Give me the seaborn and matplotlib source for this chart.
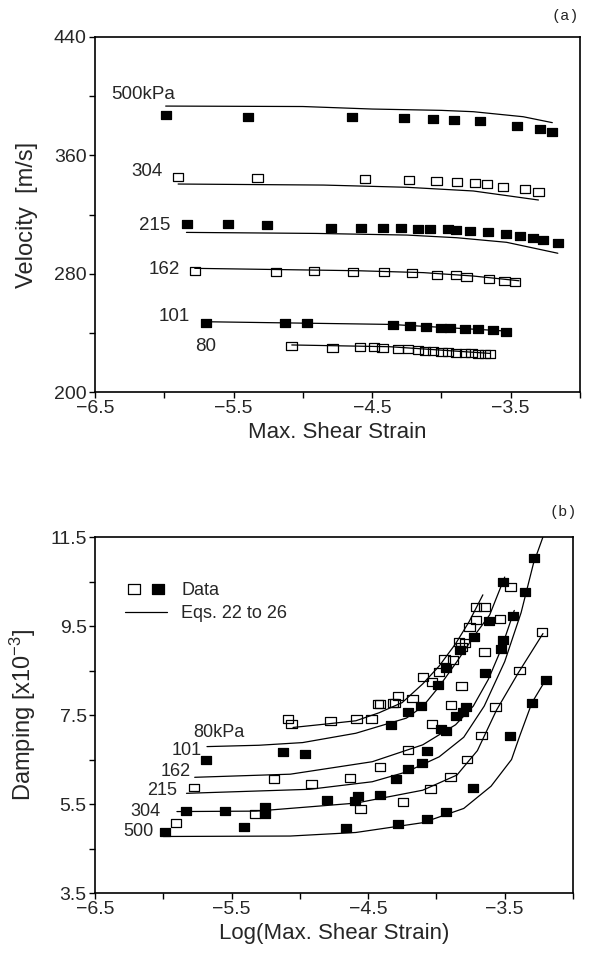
import numpy as np
import pandas as pd
import matplotlib
matplotlib.use("Agg")
import matplotlib.pyplot as plt
import seaborn as sns
from matplotlib.path import Path
from matplotlib.lines import Line2D
from matplotlib.legend_handler import HandlerTuple
from matplotlib.ticker import FixedLocator, FormatStrFormatter

# ---------------- Panel (a): velocity data ----------------
vel_labels = ["500kPa", "304", "215", "162", "101", "80"]
vel_label_x = [-6.38, -6.24, -6.18, -6.11, -6.04, -5.78]
vel_label_y = [400.8, 348.9, 312.9, 282.9, 250.9, 230.6]
vel_filled = [True, False, True, False, True, False]
vel_yticks = [200, 280, 360, 440]
vel_yminor = [240, 320, 400]

vel_500_x = [-5.988, -5.397, -4.647, -4.272, -4.061, -3.910, -3.724, -3.453, -3.292, -3.200]
vel_500_y = [387.3, 386.1, 386.1, 385.0, 384.3, 383.9, 383.2, 380.0, 377.8, 376.0]
vel_304_x = [-5.899, -5.327, -4.551, -4.234, -4.036, -3.888, -3.760, -3.671, -3.556, -3.395, -3.299]
vel_304_y = [345.6, 344.9, 344.0, 343.3, 342.6, 342.2, 341.1, 340.4, 338.8, 337.2, 335.0]
vel_215_x = [-5.839, -5.539, -5.262, -4.798, -4.584, -4.421, -4.289, -4.169, -4.085, -3.953,
             -3.893, -3.796, -3.664, -3.532, -3.436, -3.340, -3.268, -3.160]
vel_215_y = [313.3, 313.3, 312.9, 311.1, 311.1, 310.6, 310.6, 310.2, 310.2, 310.0,
             309.5, 309.0, 307.9, 306.8, 305.6, 304.3, 302.7, 300.5]
vel_162_x = [-5.779, -5.195, -4.921, -4.638, -4.414, -4.212, -4.030, -3.897, -3.820, -3.659, -3.544, -3.467]
vel_162_y = [281.8, 280.9, 281.8, 280.9, 280.9, 280.2, 279.1, 279.1, 277.9, 276.2, 275.0, 274.6]
vel_101_x = [-5.700, -5.130, -4.969, -4.349, -4.224, -4.109, -4.000, -3.936, -3.832, -3.736, -3.628, -3.532]
vel_101_y = [246.8, 246.4, 246.4, 245.3, 244.6, 244.1, 243.5, 243.5, 242.6, 242.6, 241.9, 240.7]
vel_80_x = [-5.082, -4.786, -4.589, -4.488, -4.426, -4.313, -4.241, -4.169, -4.121, -4.061,
            -4.000, -3.953, -3.893, -3.832, -3.784, -3.736, -3.688, -3.652]
vel_80_y = [231.1, 229.5, 230.2, 230.2, 230.0, 229.1, 228.9, 228.4, 227.9, 227.7,
            227.3, 226.8, 226.6, 226.2, 226.2, 225.7, 225.5, 225.5]

velfit_500_x = [-5.99, -5.00, -4.50, -4.00, -3.77, -3.41, -3.20]
velfit_500_y = [393.3, 393.0, 391.3, 390.4, 389.5, 386.1, 382.1]
velfit_304_x = [-5.90, -4.85, -4.25, -3.77, -3.30]
velfit_304_y = [340.6, 339.9, 338.4, 335.9, 329.8]
velfit_215_x = [-5.84, -4.90, -4.25, -3.89, -3.53, -3.16]
velfit_215_y = [307.9, 307.2, 306.1, 304.3, 301.2, 293.8]
velfit_162_x = [-5.78, -4.61, -4.13, -3.77, -3.44]
velfit_162_y = [283.6, 282.0, 280.7, 278.4, 275.2]
velfit_101_x = [-5.70, -4.37, -3.53]
velfit_101_y = [247.5, 245.7, 241.2]
velfit_80_x = [-5.08, -4.37, -3.65]
velfit_80_y = [231.8, 230.6, 226.1]

# ---------------- Panel (b): damping data ----------------
damp_labels = ["80kPa", "101", "162", "215", "304", "500"]
damp_label_x = [-5.78, -5.94, -6.02, -6.12, -6.24, -6.29]
damp_label_y = [7.11, 6.71, 6.23, 5.80, 5.34, 4.88]
damp_yticks = [3.5, 5.5, 7.5, 9.5, 11.5]
damp_yminor = [4.5, 6.5, 8.5, 10.5]

damp_open_x = [-5.086, -5.061, -4.776, -4.586, -4.476, -4.415, -4.305, -4.281, -4.176, -4.318, -4.427,
               -4.098, -4.030, -3.981, -3.940, -3.879, -3.835, -3.817, -3.793, -3.757, -3.708, -3.708, -3.647,
               -5.774, -5.188, -4.915, -4.635, -4.415, -4.208, -4.033, -3.891, -3.817, -3.647, -3.532, -3.457,
               -5.907, -5.330, -4.557, -4.245, -4.044, -3.896, -3.776, -3.671, -3.567, -3.391, -3.225]
damp_open_y = [7.40, 7.30, 7.36, 7.40, 7.41, 7.74, 7.76, 7.93, 7.87, 7.78, 7.75,
               8.36, 8.25, 8.47, 8.75, 8.74, 9.15, 9.03, 9.11, 9.47, 9.63, 9.93, 9.93,
               5.87, 6.06, 5.94, 6.09, 6.34, 6.71, 7.30, 7.72, 8.15, 8.92, 9.65, 10.37,
               5.07, 5.27, 5.39, 5.55, 5.83, 6.11, 6.50, 7.04, 7.67, 8.50, 9.37]
damp_filled_x = [-5.690, -5.123, -4.964, -4.334, -4.208, -4.110, -3.989, -3.927, -3.830, -3.725, -3.618, -3.513,
                 -5.836, -5.549, -5.256, -5.256, -4.798, -4.598, -4.574, -4.415, -4.298, -4.208, -4.103, -4.069,
                 -3.964, -3.927, -3.854, -3.806, -3.781, -3.647, -3.525, -3.513, -3.440, -3.354, -3.286,
                 -5.988, -5.410, -4.659, -4.281, -4.069, -3.927, -3.733, -3.459, -3.301, -3.196]
damp_filled_y = [6.49, 6.66, 6.62, 7.28, 7.56, 7.71, 8.17, 8.56, 8.96, 9.25, 9.62, 10.50,
                 5.34, 5.34, 5.44, 5.27, 5.59, 5.57, 5.69, 5.70, 6.06, 6.28, 6.43, 6.70,
                 7.18, 7.15, 7.48, 7.57, 7.67, 8.44, 8.98, 9.19, 9.73, 10.27, 11.02,
                 4.86, 4.99, 4.95, 5.04, 5.16, 5.33, 5.87, 7.03, 7.78, 8.29]

dampfit_80_x = [-5.05, -4.80, -4.59, -4.42, -4.25, -4.10, -3.98, -3.86, -3.76, -3.66]
dampfit_80_y = [7.22, 7.30, 7.37, 7.55, 7.78, 8.20, 8.60, 9.10, 9.60, 10.20]
dampfit_101_x = [-5.68, -5.30, -4.98, -4.59, -4.22, -4.10, -3.98, -3.85, -3.73, -3.61, -3.50]
dampfit_101_y = [6.79, 6.82, 6.88, 7.09, 7.43, 7.69, 8.14, 8.70, 9.25, 9.75, 10.60]
dampfit_162_x = [-5.77, -5.07, -4.47, -4.10, -3.86, -3.73, -3.62, -3.53, -3.43]
dampfit_162_y = [6.10, 6.17, 6.45, 6.83, 7.28, 7.70, 8.30, 8.95, 9.85]
dampfit_215_x = [-5.83, -4.93, -4.47, -4.22, -3.98, -3.80, -3.65, -3.50, -3.38, -3.29, -3.22]
dampfit_215_y = [5.74, 5.83, 6.00, 6.22, 6.56, 7.00, 7.70, 8.70, 9.80, 10.90, 11.50]
dampfit_304_x = [-5.90, -5.32, -4.59, -4.10, -3.85, -3.70, -3.56, -3.40, -3.22]
dampfit_304_y = [5.33, 5.34, 5.52, 5.81, 6.15, 6.70, 7.61, 8.45, 9.33]
dampfit_500_x = [-6.00, -5.07, -4.59, -4.10, -3.80, -3.60, -3.45, -3.39, -3.30, -3.20]
dampfit_500_y = [4.77, 4.78, 4.86, 5.08, 5.40, 5.90, 6.50, 7.03, 7.78, 8.29]

x_ticks = [-6.5, -5.5, -4.5, -3.5]
x_minor = [-6.0, -5.0, -4.0, -3.0]

# ---------------- Styling ----------------
sns.set_theme(style="ticks")
plt.rcParams['font.family'] = ['Liberation Sans', 'DejaVu Sans']
plt.rcParams['mathtext.fontset'] = 'custom'
plt.rcParams['mathtext.rm'] = 'Liberation Sans'
plt.rcParams['mathtext.it'] = 'Liberation Sans:italic'

rect = Path([(-1.3, -1.0), (1.3, -1.0), (1.3, 1.0), (-1.3, 1.0), (-1.3, -1.0)],
            [Path.MOVETO, Path.LINETO, Path.LINETO, Path.LINETO, Path.CLOSEPOLY])

W, H = 590, 955
fig = plt.figure(figsize=(W / 100, H / 100), dpi=100)
ax_a = fig.add_axes([95 / W, 1 - 392 / H, (580 - 95) / W, (392 - 37) / H])
ax_b = fig.add_axes([95 / W, 1 - 893 / H, (573 - 95) / W, (893 - 537) / H])

TICK_FS = 14
LABEL_FS = 16
SER_FS = 13.5


def style_axes(ax, ylo, yhi, ymaj, ymin):
    ax.set_xlim(-6.5, -3.0)
    ax.set_ylim(ylo, yhi)
    ax.xaxis.set_major_locator(FixedLocator(x_ticks))
    ax.xaxis.set_minor_locator(FixedLocator(x_minor))
    ax.yaxis.set_major_locator(FixedLocator(ymaj))
    ax.yaxis.set_minor_locator(FixedLocator(ymin))
    ax.tick_params(which='both', direction='out', length=4, width=1.0, color='black',
                   labelsize=TICK_FS, pad=2)
    for s in ax.spines.values():
        s.set_linewidth(1.2)
        s.set_color('black')
        s.set_visible(True)
    ax.grid(False)
    ax.set_facecolor('white')


def draw_fit(ax, xs, ys):
    df = pd.DataFrame({"x": xs, "y": ys, "u": 0})
    sns.lineplot(data=df, x="x", y="y", units="u", estimator=None, sort=False,
                 color='black', linewidth=0.9, ax=ax, legend=False)


def draw_pts(ax, xs, ys, filled):
    df = pd.DataFrame({"x": xs, "y": ys})
    sns.scatterplot(data=df, x="x", y="y", marker=rect, s=55,
                    facecolor='black' if filled else 'none', edgecolor='black',
                    linewidth=0.9, ax=ax, legend=False, zorder=3)


# ---- Panel (a)
vel_pts = [(vel_500_x, vel_500_y), (vel_304_x, vel_304_y), (vel_215_x, vel_215_y),
           (vel_162_x, vel_162_y), (vel_101_x, vel_101_y), (vel_80_x, vel_80_y)]
vel_fits = [(velfit_500_x, velfit_500_y), (velfit_304_x, velfit_304_y), (velfit_215_x, velfit_215_y),
            (velfit_162_x, velfit_162_y), (velfit_101_x, velfit_101_y), (velfit_80_x, velfit_80_y)]
for (fx, fy) in vel_fits:
    draw_fit(ax_a, fx, fy)
for (px, py), f in zip(vel_pts, vel_filled):
    draw_pts(ax_a, px, py, f)
for lab, lx, ly in zip(vel_labels, vel_label_x, vel_label_y):
    ax_a.text(lx, ly, lab, fontsize=SER_FS, ha='left', va='center')
style_axes(ax_a, 200, 440, vel_yticks, vel_yminor)
ax_a.set_xlabel("Max. Shear Strain", fontsize=LABEL_FS, labelpad=3)
ax_a.set_ylabel("Velocity  [m/s]", fontsize=17)
ax_a.yaxis.set_label_coords(-0.118, 0.5)

# ---- Panel (b)
damp_fits = [(dampfit_80_x, dampfit_80_y), (dampfit_101_x, dampfit_101_y), (dampfit_162_x, dampfit_162_y),
             (dampfit_215_x, dampfit_215_y), (dampfit_304_x, dampfit_304_y), (dampfit_500_x, dampfit_500_y)]
for (fx, fy) in damp_fits:
    draw_fit(ax_b, fx, fy)
draw_pts(ax_b, damp_open_x, damp_open_y, False)
draw_pts(ax_b, damp_filled_x, damp_filled_y, True)
for lab, lx, ly in zip(damp_labels, damp_label_x, damp_label_y):
    ax_b.text(lx, ly, lab, fontsize=13, ha='left', va='center')
style_axes(ax_b, 3.5, 11.5, damp_yticks, damp_yminor)
ax_b.yaxis.set_major_formatter(FormatStrFormatter('%.1f'))
ax_b.set_xlabel("Log(Max. Shear Strain)", fontsize=LABEL_FS, labelpad=3)
ax_b.set_ylabel(r"Damping [x10$^{-3}$]", fontsize=17)
ax_b.yaxis.set_label_coords(-0.12, 0.5)

h_open = Line2D([], [], linestyle='none', marker=rect, markersize=8.5,
                markerfacecolor='none', markeredgecolor='black', markeredgewidth=0.9)
h_fill = Line2D([], [], linestyle='none', marker=rect, markersize=8.5,
                markerfacecolor='black', markeredgecolor='black', markeredgewidth=0.9)
h_line = Line2D([], [], color='black', linewidth=0.9)
ax_b.legend([(h_open, h_fill), h_line], ["Data", "Eqs. 22 to 26"],
            handler_map={tuple: HandlerTuple(ndivide=None, pad=0.4)},
            loc='upper left', bbox_to_anchor=(0.063, 0.874), borderpad=0, borderaxespad=0,
            frameon=False, fontsize=13, handlelength=2.3, handletextpad=0.8, labelspacing=0.35)

# panel tags
fig.text(565 / W, 1 - 16 / H, "(a)", family=['Liberation Mono', 'DejaVu Sans Mono'], fontsize=11,
         ha='center', va='center')
fig.text(563 / W, 1 - 512 / H, "(b)", family=['Liberation Mono', 'DejaVu Sans Mono'], fontsize=11,
         ha='center', va='center')

fig.savefig("out.png", dpi=100, facecolor='white')
